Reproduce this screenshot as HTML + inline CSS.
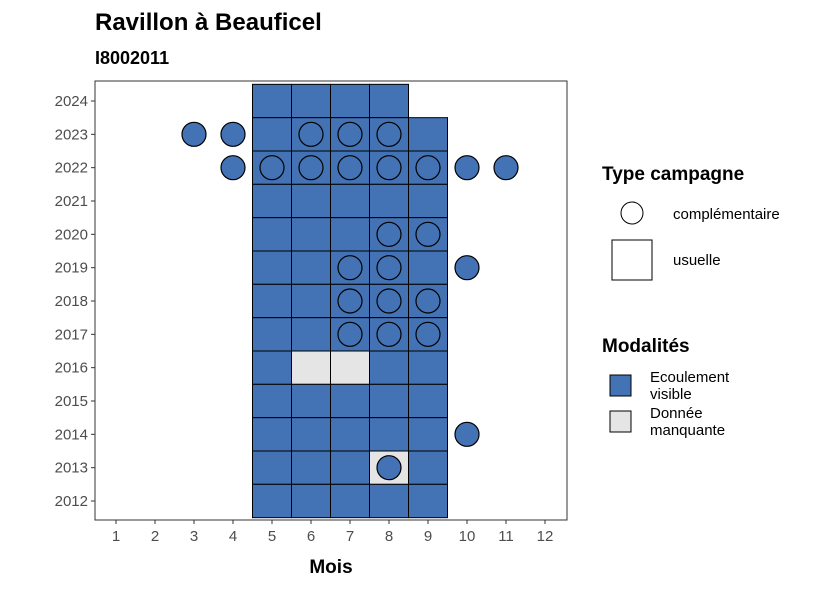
<!DOCTYPE html>
<html><head><meta charset="utf-8"><style>
body{margin:0;background:#fff;font-family:"Liberation Sans",sans-serif}
</style></head><body>
<svg width="826" height="590" xmlns="http://www.w3.org/2000/svg" font-family="Liberation Sans, sans-serif">
<text x="95" y="30" font-size="24" font-weight="bold">Ravillon à Beauficel</text>
<text x="95" y="64" font-size="18" font-weight="bold">I8002011</text>
<rect x="95" y="81" width="472" height="439" fill="#fff" stroke="#333" stroke-width="1"/>
<g id="tiles"></g><g id="circles"></g><g id="axes"></g>
<text x="331" y="573" font-size="19" font-weight="bold" text-anchor="middle">Mois</text>
<g>
<text x="602" y="180" font-size="19" font-weight="bold">Type campagne</text>
<circle cx="632" cy="213" r="11" fill="#fff" stroke="#000"/>
<text x="673" y="219" font-size="15">complémentaire</text>
<rect x="612" y="240" width="40" height="40" fill="#fff" stroke="#000"/>
<text x="673" y="265" font-size="15">usuelle</text>
</g>
<g>
<text x="602" y="352" font-size="19" font-weight="bold">Modalités</text>
<rect x="610" y="375" width="21" height="21" fill="#4373B4" stroke="#000"/>
<text x="650" y="382" font-size="15"><tspan x="650">Ecoulement</tspan><tspan x="650" dy="17">visible</tspan></text>
<rect x="610" y="411" width="21" height="21" fill="#E5E5E5" stroke="#000"/>
<text x="650" y="418" font-size="15"><tspan x="650">Donnée</tspan><tspan x="650" dy="17">manquante</tspan></text>
</g>
</svg>
<script>
const months=[1,2,3,4,5,6,7,8,9,10,11,12];
const years=[2012,2013,2014,2015,2016,2017,2018,2019,2020,2021,2022,2023,2024];
const tileYears=[2024,2024,2024,2024,2023,2023,2023,2023,2023,2022,2022,2022,2022,2022,2021,2021,2021,2021,2021,2020,2020,2020,2020,2020,2019,2019,2019,2019,2019,2018,2018,2018,2018,2018,2017,2017,2017,2017,2017,2016,2016,2016,2016,2016,2015,2015,2015,2015,2015,2014,2014,2014,2014,2014,2013,2013,2013,2013,2013,2012,2012,2012,2012,2012];
const tileMonths=[5,6,7,8,5,6,7,8,9,5,6,7,8,9,5,6,7,8,9,5,6,7,8,9,5,6,7,8,9,5,6,7,8,9,5,6,7,8,9,5,6,7,8,9,5,6,7,8,9,5,6,7,8,9,5,6,7,8,9,5,6,7,8,9];
const missing=["2016-6","2016-7","2013-8"];
const circleYears=[2023,2023,2023,2023,2023,2022,2022,2022,2022,2022,2022,2022,2022,2020,2020,2019,2019,2019,2018,2018,2018,2017,2017,2017,2014,2013];
const circleMonths=[3,4,6,7,8,4,5,6,7,8,9,10,11,8,9,7,8,10,7,8,9,7,8,9,10,8];
const NS="http://www.w3.org/2000/svg";
const xs=m=>116+(m-1)*39, ys=y=>501-(y-2012)*(400/12);
const bw=39,bh=400/12;
const tg=document.getElementById('tiles'),cg=document.getElementById('circles'),ag=document.getElementById('axes');
function mk(tag,at,p){const e=document.createElementNS(NS,tag);for(const k in at)e.setAttribute(k,at[k]);p.appendChild(e);return e;}
tileYears.forEach((y,i)=>{const m=tileMonths[i];const miss=missing.includes(y+"-"+m);
const r=mk('rect',{x:xs(m)-bw/2,y:ys(y)-bh/2,width:bw,height:bh,fill:miss?'#E5E5E5':'#4373B4',stroke:'#000','stroke-width':1},tg);

});
circleYears.forEach((y,i)=>{const m=circleMonths[i];
const c=mk('circle',{cx:xs(m),cy:ys(y),r:12,fill:'#4373B4',stroke:'#000','stroke-width':1.2},cg);

});
months.forEach(m=>{mk('line',{x1:xs(m),x2:xs(m),y1:520,y2:524,stroke:'#333'},ag);
const t=mk('text',{x:xs(m),y:541,'font-size':15,fill:'#4d4d4d','text-anchor':'middle'},ag);t.textContent=m;

});
years.forEach(y=>{mk('line',{x1:91,x2:95,y1:ys(y),y2:ys(y),stroke:'#333'},ag);
const t=mk('text',{x:88,y:ys(y)+5,'font-size':15,fill:'#4d4d4d','text-anchor':'end'},ag);t.textContent=y;

});
</script>
</body></html>
